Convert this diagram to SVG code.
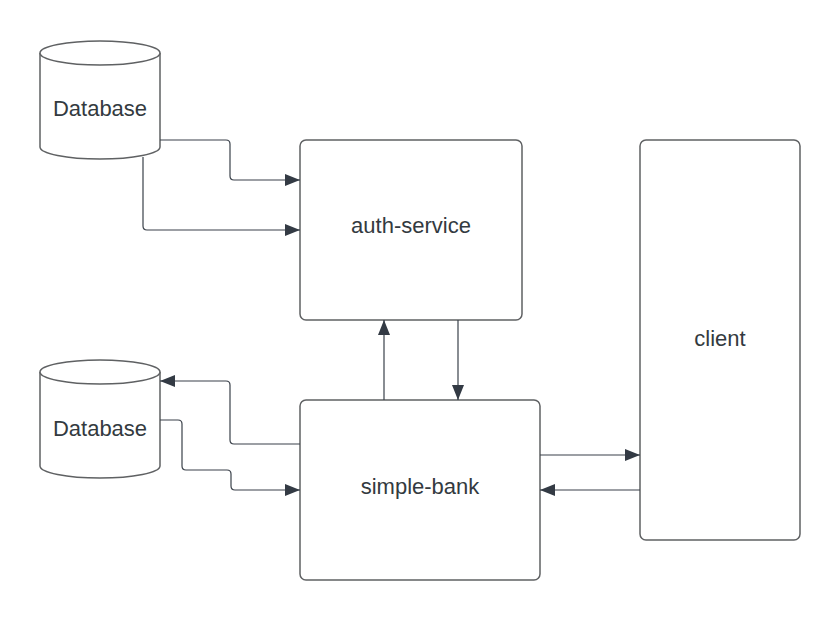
<svg xmlns="http://www.w3.org/2000/svg" width="840" height="620" viewBox="0 0 840 620">
<defs>
<marker id="ah" markerUnits="userSpaceOnUse" markerWidth="16" markerHeight="12" refX="15" refY="6" orient="auto">
<path d="M0,0 L15,6 L0,12 Z" fill="#333a44"/>
</marker>
<style>
.shape{fill:#fff;stroke:#5f6163;stroke-width:1.5}
.lbl{font-family:"Liberation Sans",Arial,sans-serif;font-size:22px;fill:#333a40;text-anchor:middle;dominant-baseline:central}
.con{fill:none;stroke:#3a414a;stroke-width:1.2;marker-end:url(#ah)}
</style>
</defs>
<rect width="840" height="620" fill="#fff"/>
<g id="db1">
<path class="shape" d="M40,53 L40,147 A60,12 0 0 0 160,147 L160,53 A60,12 0 0 0 40,53 Z"/>
<path class="shape" fill="none" d="M40,53 A60,12 0 0 0 160,53"/>
<text class="lbl" x="100" y="108">Database</text>
</g>
<g id="db2">
<path class="shape" d="M40,372 L40,466 A60,12 0 0 0 160,466 L160,372 A60,12 0 0 0 40,372 Z"/>
<path class="shape" fill="none" d="M40,372 A60,12 0 0 0 160,372"/>
<text class="lbl" x="100" y="428">Database</text>
</g>
<g id="auth">
<rect class="shape" x="300" y="140" width="222" height="180" rx="6"/>
<text class="lbl" x="411" y="225">auth-service</text>
</g>
<g id="bank">
<rect class="shape" x="300" y="400" width="240" height="180" rx="6"/>
<text class="lbl" x="420" y="486">simple-bank</text>
</g>
<g id="client">
<rect class="shape" x="640" y="140" width="160" height="400" rx="6"/>
<text class="lbl" x="720" y="338">client</text>
</g>
<g id="connectors">
<path class="con" d="M160,140 L226,140 Q230,140 230,144 L230,176 Q230,180 234,180 L300,180"/>
<path class="con" d="M143,157 L143,226 Q143,230 147,230 L300,230"/>
<path class="con" d="M300,444 L234,444 Q230,444 230,440 L230,385 Q230,381 226,381 L160,381"/>
<path class="con" d="M160,420 L178,420 Q182,420 182,424 L182,466 Q182,470 186,470 L227,470 Q231,470 231,474 L231,486 Q231,490 235,490 L300,490"/>
<path class="con" d="M384,400 L384,320"/>
<path class="con" d="M458,320 L458,400"/>
<path class="con" d="M540,455 L640,455"/>
<path class="con" d="M640,490 L540,490"/>
</g>
</svg>
